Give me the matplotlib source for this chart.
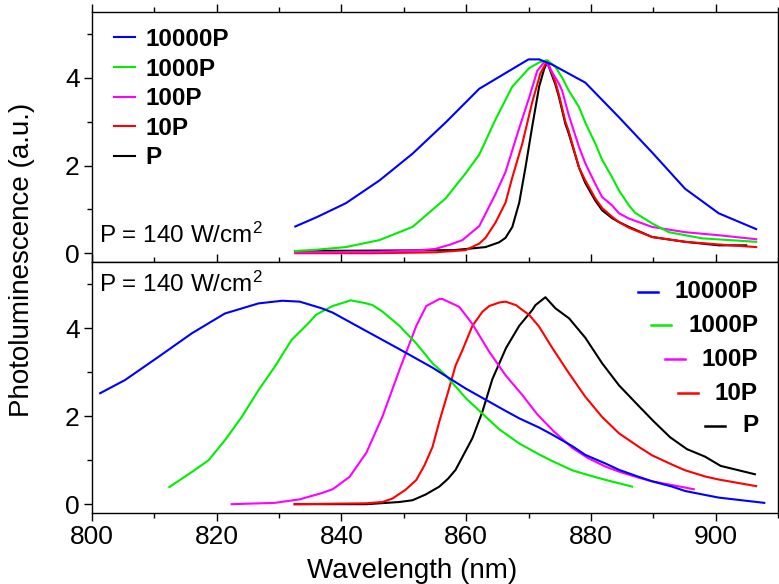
import matplotlib
matplotlib.use("Agg")
import matplotlib.pyplot as plt
from matplotlib.ticker import MultipleLocator

plt.rcParams['font.family'] = ['Liberation Sans', 'DejaVu Sans']
plt.rcParams['mathtext.default'] = 'regular'

# ---- top panel: spectra ----
top_blue_x = [832.6, 836.0, 840.7, 846.1, 851.4, 856.7, 862.1, 867.4, 870.0, 871.7,
              873.8, 879.1, 884.5, 889.8, 895.1, 900.5, 906.5]
top_blue_y = [0.61, 0.82, 1.14, 1.66, 2.27, 2.98, 3.75, 4.20, 4.42, 4.42,
              4.30, 3.89, 3.10, 2.30, 1.47, 0.91, 0.55]

top_green_x = [832.6, 836.0, 840.7, 846.1, 851.4, 856.7, 859.9, 862.1, 864.7, 867.4,
               870.1, 871.7, 873.0, 874.3, 875.4, 876.4, 878.1, 879.1, 880.7, 881.8,
               883.4, 884.5, 886.1, 887.1, 889.8, 892.5, 897.8, 906.5]
top_green_y = [0.05, 0.08, 0.14, 0.30, 0.60, 1.25, 1.82, 2.25, 3.05, 3.80,
               4.22, 4.35, 4.40, 4.25, 4.00, 3.72, 3.33, 2.98, 2.50, 2.13,
               1.73, 1.43, 1.09, 0.92, 0.68, 0.48, 0.34, 0.26]

top_mag_x = [832.6, 845.0, 852.0, 855.1, 857.5, 859.4, 862.1, 864.7, 866.3, 868.5,
             870.1, 871.4, 872.7, 874.9, 875.4, 876.4, 878.1, 879.1, 880.7, 881.8,
             883.4, 884.5, 886.1, 889.8, 895.1, 900.5, 906.5]
top_mag_y = [0.02, 0.03, 0.06, 0.10, 0.20, 0.30, 0.62, 1.35, 1.85, 2.85,
             3.55, 4.16, 4.39, 3.86, 3.70, 3.17, 2.42, 2.05, 1.58, 1.28,
             1.09, 0.91, 0.79, 0.60, 0.48, 0.41, 0.32]

top_red_x = [832.6, 845.0, 855.0, 859.9, 862.1, 863.1, 864.7, 866.3, 867.4, 869.0,
             870.6, 871.9, 873.0, 874.3, 874.9, 875.9, 876.4, 878.1, 879.1, 880.7,
             881.8, 883.4, 884.5, 886.1, 889.8, 895.1, 900.5, 906.5]
top_red_y = [0.00, 0.00, 0.02, 0.07, 0.22, 0.35, 0.70, 1.15, 1.73, 2.50,
             3.45, 4.10, 4.39, 3.90, 3.60, 3.00, 2.80, 1.95, 1.66, 1.25,
             1.03, 0.83, 0.71, 0.58, 0.37, 0.26, 0.20, 0.14]

top_black_x = [832.6, 845.0, 858.0, 863.1, 865.3, 866.3, 867.4, 868.5, 869.5, 870.6,
               871.7, 872.5, 873.0, 874.3, 874.9, 875.9, 876.4, 878.1, 879.1, 880.7,
               881.8, 883.4, 884.5, 886.1, 889.8, 895.1, 900.5, 904.9]
top_black_y = [0.05, 0.06, 0.07, 0.14, 0.25, 0.35, 0.60, 1.15, 1.95, 2.90,
               3.80, 4.20, 4.35, 3.85, 3.55, 2.95, 2.75, 1.95, 1.60, 1.20,
               0.98, 0.80, 0.71, 0.60, 0.37, 0.26, 0.18, 0.18]

# ---- bottom panel ----
bot_blue_x = [801.3, 805.3, 810.7, 816.0, 821.3, 826.7, 830.5, 833.3, 836.8, 838.6,
              844.0, 849.3, 854.6, 860.0, 866.3, 868.5, 871.7, 873.8, 877.0, 879.1,
              882.4, 884.5, 887.7, 889.8, 893.0, 895.1, 898.3, 900.5, 907.8]
bot_blue_y = [2.52, 2.82, 3.35, 3.88, 4.33, 4.56, 4.62, 4.60, 4.45, 4.35,
              3.93, 3.52, 3.10, 2.62, 2.12, 1.95, 1.74, 1.58, 1.32, 1.12,
              0.92, 0.78, 0.62, 0.52, 0.40, 0.30, 0.21, 0.15, 0.03]

bot_green_x = [812.4, 816.0, 818.7, 821.3, 824.0, 826.7, 829.3, 832.0, 834.7, 835.9,
               836.8, 838.6, 841.5, 844.0, 845.0, 846.6, 849.3, 852.0, 854.6, 856.7,
               860.0, 865.3, 868.5, 871.7, 873.8, 877.0, 879.1, 882.4, 886.6]
bot_green_y = [0.39, 0.73, 1.00, 1.45, 1.98, 2.59, 3.12, 3.73, 4.11, 4.30,
               4.37, 4.50, 4.63, 4.56, 4.52, 4.37, 4.05, 3.65, 3.20, 2.93,
               2.40, 1.70, 1.38, 1.13, 0.98, 0.77, 0.68, 0.55, 0.40]

bot_mag_x = [822.4, 829.3, 833.3, 836.8, 838.6, 841.3, 844.0, 846.6, 849.3, 852.0,
             853.6, 855.7, 856.2, 858.3, 858.9, 861.0, 863.7, 866.3, 869.0, 871.4,
             874.0, 877.0, 879.5, 882.4, 884.5, 887.7, 889.8, 896.5]
bot_mag_y = [0.00, 0.03, 0.11, 0.25, 0.34, 0.62, 1.17, 2.00, 3.05, 4.05,
             4.50, 4.66, 4.66, 4.52, 4.48, 4.09, 3.46, 2.93, 2.48, 2.04,
             1.66, 1.28, 1.05, 0.85, 0.74, 0.60, 0.52, 0.34]

bot_red_x = [832.5, 844.0, 846.6, 848.2, 850.3, 852.0, 853.3, 854.6, 855.7, 857.1,
             858.3, 859.4, 861.0, 862.6, 863.7, 865.3, 866.3, 868.0, 869.0, 870.1,
             871.7, 873.8, 876.5, 879.1, 881.8, 884.5, 887.7, 889.8, 893.0, 895.1,
             898.3, 900.5, 906.5]
bot_red_y = [0.00, 0.02, 0.05, 0.13, 0.33, 0.55, 0.88, 1.30, 1.88, 2.55,
             3.15, 3.50, 4.05, 4.37, 4.50, 4.58, 4.60, 4.52, 4.41, 4.30,
             4.03, 3.55, 2.97, 2.44, 1.98, 1.61, 1.30, 1.11, 0.90, 0.77,
             0.63, 0.56, 0.41]

bot_black_x = [832.5, 844.0, 849.3, 851.4, 853.5, 855.7, 857.1, 858.3, 859.5, 861.0,
               862.6, 864.2, 866.4, 868.5, 870.6, 871.1, 872.7, 874.3, 876.5, 879.1,
               881.8, 884.5, 887.4, 890.0, 892.7, 895.4, 898.3, 900.8, 906.3]
bot_black_y = [0.00, 0.00, 0.05, 0.09, 0.22, 0.40, 0.58, 0.78, 1.10, 1.50,
               2.10, 2.84, 3.55, 4.05, 4.41, 4.52, 4.70, 4.45, 4.22, 3.78,
               3.20, 2.70, 2.27, 1.89, 1.52, 1.25, 1.08, 0.87, 0.68]

labels = ['10000P', '1000P', '100P', '10P', 'P']
colors = ['#0000ff', '#00ee00', '#ff00ff', '#ff0000', '#000000']

top_x = [top_blue_x, top_green_x, top_mag_x, top_red_x, top_black_x]
top_y = [top_blue_y, top_green_y, top_mag_y, top_red_y, top_black_y]
bot_x = [bot_blue_x, bot_green_x, bot_mag_x, bot_red_x, bot_black_x]
bot_y = [bot_blue_y, bot_green_y, bot_mag_y, bot_red_y, bot_black_y]

fig = plt.figure(figsize=(7.79, 5.84), dpi=100)
ax1 = fig.add_axes([92/779, 1-262/584, 686/779, 250/584])
ax2 = fig.add_axes([92/779, 1-513/584, 686/779, 251/584], sharex=ax1)

for ax in (ax1, ax2):
    ax.set_xlim(800, 910)
    ax.set_ylim(-0.2, 5.5)
    ax.xaxis.set_major_locator(MultipleLocator(20))
    ax.xaxis.set_minor_locator(MultipleLocator(10))
    ax.yaxis.set_major_locator(MultipleLocator(2))
    ax.yaxis.set_minor_locator(MultipleLocator(1))
    ax.tick_params(which='both', direction='out', top=True, bottom=True,
                   right=False, labelsize=19, width=1.0)
    ax.tick_params(which='major', length=5.5)
    ax.tick_params(which='minor', length=3.5)
    for s in ax.spines.values():
        s.set_linewidth(1.0)
    ax.text(0.01, 0.055 if ax is ax1 else 0.96, 'P = 140 W/cm$^2$',
            transform=ax.transAxes, fontsize=17.5,
            va='bottom' if ax is ax1 else 'top', ha='left')

ax1.tick_params(labelbottom=False)

# draw P last so it sits on top, like the original
for i in range(4, -1, -1):
    ax1.plot(top_x[i], top_y[i], color=colors[i], lw=1.5, label=labels[i])
    ax2.plot(bot_x[i], bot_y[i], color=colors[i], lw=1.5, label=labels[i])

h, l = ax1.get_legend_handles_labels()
leg = ax1.legend(h[::-1], l[::-1], loc='upper left', frameon=False,
                 prop={'weight': 'bold', 'size': 17.5}, handlelength=0.85,
                 handletextpad=0.45, labelspacing=0.27,
                 bbox_to_anchor=(0.018, 0.975), borderaxespad=0.0)

# bottom legend: right-aligned labels with handles just before each label
fig.canvas.draw()
renderer = fig.canvas.get_renderer()
inv = ax2.transAxes.inverted()
row_y = [292, 325, 359, 393, 426]
for i in range(5):
    yax = inv.transform((0, 584 - row_y[i]))[1]
    t = ax2.text(inv.transform((758, 0))[0], yax, labels[i],
                 transform=ax2.transAxes, ha='right', va='center',
                 fontsize=17.5, fontweight='bold')
    bb = t.get_window_extent(renderer)
    x_end = inv.transform((bb.x0 - 17, 0))[0]
    x_start = inv.transform((bb.x0 - 37, 0))[0]
    ax2.plot([x_start, x_end], [yax, yax], color=colors[i], lw=1.8,
             transform=ax2.transAxes, clip_on=False)

fig.text(22/779, 1-260/584, 'Photoluminescence (a.u.)', rotation=90,
         ha='center', va='center', fontsize=20)
fig.text(412/779, 1-578/584, 'Wavelength (nm)', ha='center', va='baseline',
         fontsize=20)

fig.savefig('out.png', dpi=100)
